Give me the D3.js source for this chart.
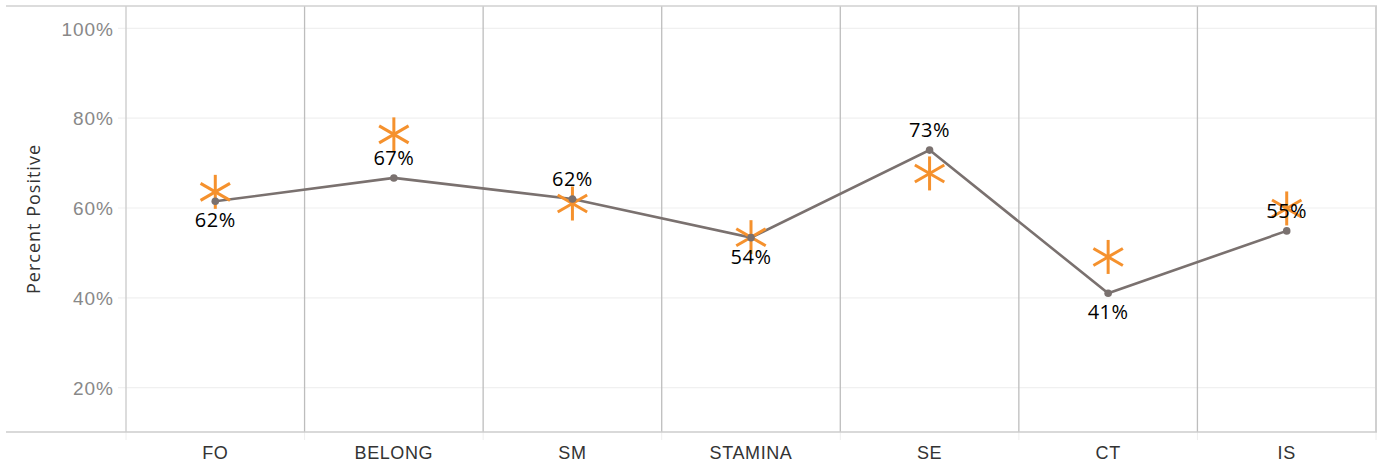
<!DOCTYPE html>
<html>
<head>
<meta charset="utf-8">
<script src="https://cdn.jsdelivr.net/npm/d3@7"></script>
<style>
  html, body { margin: 0; padding: 0; background: #fff; }
  svg { display: block; font-family: "Open Sans", "Noto Sans", sans-serif; }
</style>
</head>
<body>
<div id="chart"></div>
<script>
// ---- data ----
const categories = ["FO", "BELONG", "SM", "STAMINA", "SE", "CT", "IS"];
const lineValues = [61.5, 66.7, 62.0, 53.4, 72.9, 41.0, 54.9];
const lineLabels = ["62%", "67%", "62%", "54%", "73%", "41%", "55%"];
const starValues = [63.6, 76.4, 61.0, 53.5, 67.7, 49.1, 59.9];
const labelSide = ["below", "above", "above", "below", "above", "below", "above"];
const yTicks = [20, 40, 60, 80, 100];
const yTitle = "Percent Positive";

// ---- layout ----
const W = 1380, H = 466;
const plot = { left: 126, right: 1376, top: 6, bottom: 432 };

const svg = d3.select("#chart").append("svg").attr("width", W).attr("height", H);

const x = d3.scaleBand().domain(categories).range([plot.left, plot.right]).padding(0);
const y = d3.scaleLinear().domain([10.1, 105]).range([plot.bottom, plot.top]);

// y axis labels
const yAxis = d3.axisLeft(y).tickValues(yTicks).tickFormat(d => d + "%").tickSize(0).tickPadding(12);
const gy = svg.append("g").attr("transform", `translate(${plot.left},0)`).call(yAxis);
gy.select(".domain").remove();
gy.selectAll("text").attr("fill", "#888").style("font-size", "19px")
  .style("letter-spacing", "1px").attr("dy", "0.35em");

// gridlines
svg.append("g").selectAll("line").data(yTicks).join("line")
  .attr("x1", plot.left - 8).attr("x2", plot.right)
  .attr("y1", d => y(d)).attr("y2", d => y(d))
  .attr("stroke", "#f0f0f0").attr("stroke-width", 1.2);

// column dividers
const bounds = categories.map(c => x(c)).concat([plot.right]);
svg.append("g").selectAll("line").data(bounds.slice(1, -1)).join("line")
  .attr("x1", d => d).attr("x2", d => d)
  .attr("y1", plot.top).attr("y2", plot.bottom)
  .attr("stroke", "#bdbdbd").attr("stroke-width", 1.3);

// small ticks below axis
svg.append("g").selectAll("line").data(bounds).join("line")
  .attr("x1", d => d).attr("x2", d => d)
  .attr("y1", plot.bottom).attr("y2", plot.bottom + 8)
  .attr("stroke", "#eeeeee").attr("stroke-width", 1);

// frame
svg.append("line").attr("x1", 6).attr("x2", plot.right + 1).attr("y1", plot.top).attr("y2", plot.top)
  .attr("stroke", "#d0d0d0").attr("stroke-width", 1.5);
svg.append("line").attr("x1", plot.left).attr("x2", plot.left).attr("y1", plot.top).attr("y2", plot.bottom)
  .attr("stroke", "#d0d0d0").attr("stroke-width", 1.5);
svg.append("line").attr("x1", plot.right).attr("x2", plot.right).attr("y1", plot.top).attr("y2", plot.bottom)
  .attr("stroke", "#d0d0d0").attr("stroke-width", 2);
svg.append("line").attr("x1", 6).attr("x2", plot.right + 1).attr("y1", plot.bottom).attr("y2", plot.bottom)
  .attr("stroke", "#cccccc").attr("stroke-width", 1.5);

// x axis labels
const xAxis = d3.axisBottom(x).tickSize(0).tickPadding(14);
const gx = svg.append("g").attr("transform", `translate(0,${plot.bottom})`).call(xAxis);
gx.select(".domain").remove();
gx.selectAll("text").attr("fill", "#333").style("font-size", "18px").style("letter-spacing", "0.6px");

// y title
svg.append("text")
  .attr("transform", `translate(40,${(y(105) + y(10.1)) / 2}) rotate(-90)`)
  .attr("text-anchor", "middle").attr("fill", "#333").style("font-size", "18px")
  .style("letter-spacing", "1px")
  .text(yTitle);

// line
const cx = c => x(c) + x.bandwidth() / 2;
const line = d3.line().x((d, i) => cx(categories[i])).y(d => y(d));
svg.append("path").datum(lineValues).attr("d", line)
  .attr("fill", "none").attr("stroke", "#7a716f").attr("stroke-width", 2.6);

// asterisks
const armR = 17;
const angles = [90, 30, -30];
const stars = svg.append("g").selectAll("g").data(starValues).join("g")
  .attr("transform", (d, i) => `translate(${cx(categories[i])},${y(d)})`);
angles.forEach(a => {
  const r = a * Math.PI / 180;
  stars.append("line")
    .attr("x1", -armR * Math.cos(r)).attr("y1", -armR * Math.sin(r))
    .attr("x2", armR * Math.cos(r)).attr("y2", armR * Math.sin(r))
    .attr("stroke", "#f5912d").attr("stroke-width", 3);
});

// points
svg.append("g").selectAll("circle").data(lineValues).join("circle")
  .attr("cx", (d, i) => cx(categories[i])).attr("cy", d => y(d))
  .attr("r", 3.8).attr("fill", "#7a716f");

// labels
svg.append("g").selectAll("text").data(lineValues).join("text")
  .attr("x", (d, i) => cx(categories[i]))
  .attr("y", (d, i) => y(d) + (labelSide[i] === "above" ? -20 : 19))
  .attr("dy", "0.35em")
  .attr("text-anchor", "middle").attr("fill", "#000").style("font-size", "20px")
  .style("letter-spacing", "0.5px")
  .text((d, i) => lineLabels[i]);
</script>
</body>
</html>
